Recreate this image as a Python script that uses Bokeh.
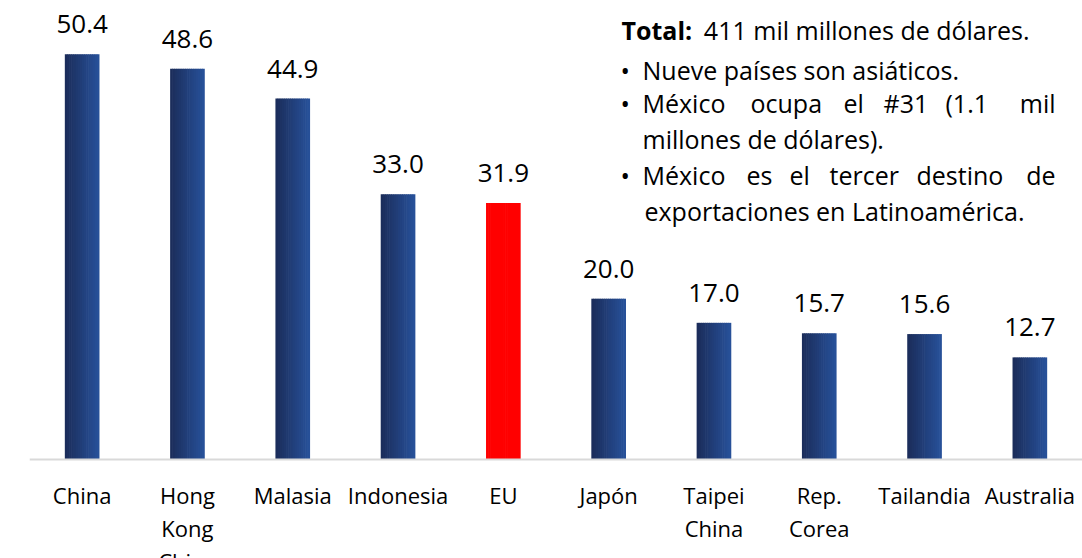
from bokeh.plotting import figure
from bokeh.models import ColumnDataSource, FactorRange, Range1d, Label, Span
from bokeh.transform import dodge
from bokeh.core.properties import value
from bokeh.embed import file_html
from bokeh.resources import INLINE

# ---- data ----
categories = ["China", "Hong Kong China", "Malasia", "Indonesia", "EU", "Japón",
              "Taipei China", "Rep. Corea", "Tailandia", "Australia"]
category_labels = ["China", "Hong\nKong\nChina", "Malasia", "Indonesia", "EU", "Japón",
                   "Taipei\nChina", "Rep.\nCorea", "Tailandia", "Australia"]
values = [50.4, 48.6, 44.9, 33.0, 31.9, 20.0, 17.0, 15.7, 15.6, 12.7]
highlight = ["EU"]
value_labels = [f"{v:.1f}" for v in values]

# ---- styling ----
FONT = "Open Sans"
grad_left = (27, 45, 91)
grad_right = (39, 80, 152)
HIGHLIGHT = "#ff0000"
N_STRIPS = 16
BAR_W = 0.323

W, H = 1082, 558
FRAME_L = 29
PX_PER_CAT = (W - FRAME_L) / len(categories)
BASE_Y = 459          # page px of the zero line
PX_PER_UNIT = 8.04
TEXT_SHIFT = 8        # empirical baseline correction (px)


def hexc(c):
    return "#%02x%02x%02x" % tuple(int(round(v)) for v in c)


data = dict(x=categories, top=values, label=value_labels, cat_label=category_labels,
            zero=[0] * len(categories))
sw = BAR_W / N_STRIPS
for k in range(N_STRIPS):
    t = k / (N_STRIPS - 1)
    col = hexc([grad_left[i] + (grad_right[i] - grad_left[i]) * t for i in range(3)])
    data[f"c{k}"] = [HIGHLIGHT if c in highlight else col for c in categories]
source = ColumnDataSource(data)

p = figure(x_range=FactorRange(factors=categories),
           y_range=Range1d(-(H - BASE_Y) / PX_PER_UNIT, BASE_Y / PX_PER_UNIT),
           width=W, height=H, output_backend="svg", toolbar_location=None,
           x_axis_location=None, y_axis_location=None,
           min_border_left=FRAME_L, min_border_right=0,
           min_border_top=0, min_border_bottom=0)
p.outline_line_color = None
p.grid.visible = False
p.background_fill_color = "white"
p.border_fill_color = "white"

for k in range(N_STRIPS):
    off = -BAR_W / 2 + sw * (k + 0.5)
    p.vbar(x=dodge("x", off, range=p.x_range), top="top", bottom=0,
           width=sw * 1.3, fill_color=f"c{k}", line_color=None, source=source)

# zero line
p.add_layout(Span(location=0, dimension="width", line_color="#d9d9d9", line_width=2))

# value labels
p.text(x="x", y="top", text="label", source=source, text_align="center",
       text_baseline="alphabetic", y_offset=-22 - TEXT_SHIFT, text_font=value(FONT),
       text_font_size="26px", text_color="#000000")

# category labels
p.text(x="x", y="zero", text="cat_label", source=source, text_align="center",
       text_baseline="top", y_offset=20, text_font=value(FONT),
       text_font_size="22px", text_line_height=1.1, text_color="#000000")


# ---- text block (positions given in page pixels) ----
def dx(px):
    return (px - FRAME_L) / PX_PER_CAT


def dy(py):
    return (BASE_Y - (py - TEXT_SHIFT)) / PX_PER_UNIT


def put(txt, px, py, bold=False, size="25px", align="left"):
    p.add_layout(Label(x=dx(px), y=dy(py), text=txt, text_font=FONT,
                       text_font_size=size, text_color="#000000",
                       text_font_style="bold" if bold else "normal",
                       text_baseline="alphabetic", text_align=align))


put("Total:", 621, 37, bold=True)
put("411 mil millones de dólares.", 1029, 37, align="right")
for yy in (77, 110, 182):
    put("•", 620, yy)
put("Nueve países son asiáticos.", 642, 77)
for w, x0 in [("México", 642), ("ocupa", 750), ("el", 843), ("#31", 883),
              ("(1.1", 945)]:
    put(w, x0, 110)
put("mil", 1055, 110, align="right")
put("millones de dólares).", 642, 146)
for w, x0 in [("México", 642), ("es", 746), ("el", 789), ("tercer", 829),
              ("destino", 916)]:
    put(w, x0, 182)
put("de", 1055, 182, align="right")
put("exportaciones en Latinoamérica.", 644, 218)

open("out.html", "w").write(file_html(p, INLINE))
